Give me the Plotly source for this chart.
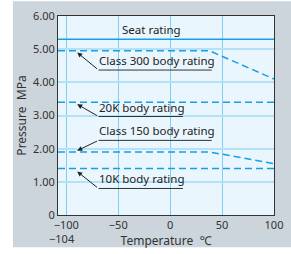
import plotly.graph_objects as go

# ---- data ----
seat_x = [-108, 100]
seat_y = [5.3, 5.3]
class300_x = [-108, 38, 100]
class300_y = [4.95, 4.95, 4.1]
k20_x = [-108, 100]
k20_y = [3.4, 3.4]
class150_x = [-108, 38, 100]
class150_y = [1.9, 1.9, 1.55]
k10_x = [-108, 100]
k10_y = [1.4, 1.4]

x_ticks = [-100, -50, 0, 50, 100]
x_ticklabels = ["−100", "−50", "0", "50", "100"]
y_ticks = [0, 1, 2, 3, 4, 5, 6]
y_ticklabels = ["0", "1.00", "2.00", "3.00", "4.00", "5.00", "6.00"]

# callouts: label, text pos, arrow tip, elbow, underline end
callout_labels = ["Class 300 body rating", "20K body rating", "Class 150 body rating", "10K body rating"]
callout_text_x = [-70, -70, -70, -70]
callout_tip_x = [-89.5, -89.5, -89.5, -89.5]
callout_tip_y = [4.9, 3.34, 1.94, 1.31]
callout_elbow_x = [-69, -69, -69, -69]
callout_elbow_y = [4.37, 2.97, 2.25, 0.8]
callout_end_x = [40, 12.3, 40, 12.3]

BLUE = "#1a9ee2"
FONT = "Noto Sans"

fig = go.Figure()
line_style = dict(color=BLUE, width=1.5, dash="7px,4px")
fig.add_trace(go.Scatter(x=seat_x, y=seat_y, mode="lines", line=dict(color=BLUE, width=1.5)))
for xs, ys in [(class300_x, class300_y), (k20_x, k20_y), (class150_x, class150_y), (k10_x, k10_y)]:
    fig.add_trace(go.Scatter(x=xs, y=ys, mode="lines", line=line_style))

annotations = []
shapes = []
for lab, tx, px, py, ex, ey, endx in zip(callout_labels, callout_text_x,
                                         callout_tip_x, callout_tip_y, callout_elbow_x,
                                         callout_elbow_y, callout_end_x):
    annotations.append(dict(x=px, y=py, ax=ex, ay=ey, xref="x", yref="y", axref="x", ayref="y",
                            text="", showarrow=True, arrowhead=2, arrowsize=1, arrowwidth=1,
                            arrowcolor="#222", standoff=0, startstandoff=0))
    shapes.append(dict(type="line", xref="x", yref="y", x0=ex, x1=endx, y0=ey, y1=ey,
                       line=dict(color="#333", width=1)))
    annotations.append(dict(x=tx, y=ey, xref="x", yref="y", text=lab, showarrow=False,
                            xanchor="left", yanchor="bottom", yshift=0,
                            font=dict(family=FONT, size=11.5, color="#222")))

annotations.append(dict(x=-18, y=5.3, xref="x", yref="y", text="Seat rating", showarrow=False,
                        yanchor="bottom", yshift=0, font=dict(family=FONT, size=11.5, color="#222")))
annotations.append(dict(x=-104, y=0, xref="x", yref="y", text="−104", showarrow=False,
                        yanchor="top", yshift=-14, font=dict(family=FONT, size=11, color="#333")))

# outer white strips (figure background is gray)
for x0, x1, y0, y1 in [(-1, (11 - 58) / 225, -1, 2),
                       (-1, 2, (219 - 1) / 203, 2),
                       (-1, 2, -1, (219 - 252) / 203)]:
    shapes.append(dict(type="rect", xref="paper", yref="paper", x0=x0, x1=x1, y0=y0, y1=y1,
                       fillcolor="white", line=dict(width=0), layer="below"))

fig.update_layout(
    width=291, height=254,
    margin=dict(l=58, r=8, t=16, b=35),
    paper_bgcolor="#cbd5db", plot_bgcolor="#eaf6fd",
    showlegend=False,
    annotations=annotations, shapes=shapes,
    font=dict(family=FONT, size=11, color="#333"),
)
fig.update_xaxes(range=[-108, 100], tickvals=x_ticks, ticktext=x_ticklabels,
                 showgrid=True, gridcolor="#7dd0f3", gridwidth=1,
                 showline=True, linecolor="#333", linewidth=1, mirror=True,
                 zeroline=False, ticks="", ticklen=0, ticklabeloverflow="allow",
                 title=dict(text="Temperature  ℃", font=dict(family=FONT, size=12, color="#333"), standoff=5),
                 tickfont=dict(family=FONT, size=11, color="#333"))
fig.update_yaxes(range=[0, 6], tickvals=y_ticks, ticktext=y_ticklabels,
                 showgrid=True, gridcolor="#b3e2f6", gridwidth=2,
                 showline=True, linecolor="#333", linewidth=1, mirror=True,
                 zeroline=False, ticks="", ticklen=0,
                 title=dict(text="Pressure  MPa", font=dict(family=FONT, size=12, color="#333"), standoff=3),
                 tickfont=dict(family=FONT, size=11, color="#333"))

fig.write_html("out.html", config={"displayModeBar": False},
               post_script="document.body.style.margin='0px';document.body.style.overflow='hidden';")
